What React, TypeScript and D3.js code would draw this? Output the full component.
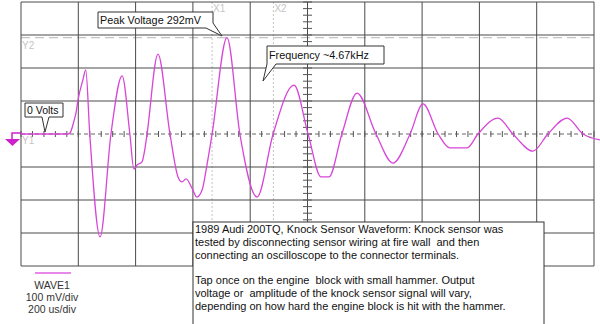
import React from "react";
import * as d3 from "d3";

// Waveform samples: time (us) and voltage (mV)
const times = [0, 164, 171, 185, 192, 199, 216, 226, 240, 276, 314, 353, 380, 394, 405, 422, 433, 440, 478, 520, 548, 562, 576, 597, 614, 632, 649, 667, 719, 764, 824, 880, 953, 1002, 1047, 1075, 1120, 1173, 1239, 1298, 1358, 1403, 1456, 1497, 1557, 1595, 1665, 1717, 1787, 1839, 1906, 1962, 2021];
const volts = [0, 0, 3, 40, 64, 103, 164, 194, 0, -312, 0, 176, 0, -106, -94, -85, -42, 0, 242, 0, -130, -145, -136, -164, -191, -170, -94, 0, 292, 0, -191, 0, 148, 0, -130, -130, 0, 124, 0, -88, 0, 91, 0, -42, -42, 0, 48, 0, -52, 0, 48, 0, -18];

const timeTicks = d3.range(0, 2001, 200);
const voltTicks = d3.range(-400, 401, 100);
const timeMinor = d3.range(0, 2001, 40);
const voltMinor = d3.range(-400, 401, 20);
const cursorsX = [{ name: "X1", t: 667 }, { name: "X2", t: 881 }];
const cursorY2 = 292;

const noteLines1 = [
  "1989 Audi 200TQ, Knock Sensor Waveform: Knock sensor was",
  "tested by disconnecting sensor wiring at fire wall  and then",
  "connecting an oscilloscope to the connector terminals.",
];
const noteLines2 = [
  "Tap once on the engine  block with small hammer. Output",
  "voltage or  amplitude of the knock sensor signal will vary,",
  "depending on how hard the engine block is hit with the hammer.",
];
const legendLines = ["WAVE1", "100 mV/div", "200 us/div"];

const W = 600, H = 324;
const FONT = "'Liberation Sans', Arial, sans-serif";

export default function App() {
  const x = d3.scaleLinear().domain([0, 2000]).range([21, 594]);
  const y = d3.scaleLinear().domain([-400, 400]).range([266, 2]);
  const pts: [number, number][] = times.map((t, i) => [t, volts[i]]);
  const line = d3
    .line<[number, number]>()
    .x((d) => x(d[0]))
    .y((d) => y(d[1]))
    .curve(d3.curveMonotoneX);
  const y0 = y(0);
  const xc = x(1000);
  const wave = "#d845d8";
  const gridC = "#4a4a4a";
  const light = "#c4c4c4";
  const pre = { whiteSpace: "pre" as const };

  return (
    <svg width={W} height={H} style={{ position: "absolute", left: 0, top: 0, display: "block", background: "#fff" }} fontFamily={FONT}>
      <rect x={0} y={0} width={W} height={H} fill="#fff" />
      {/* Y2 cursor */}
      <line x1={x(0)} x2={x(2000)} y1={y(cursorY2)} y2={y(cursorY2)} stroke={light} strokeWidth={1.3} strokeDasharray="9,5" />
      <text x={22} y={49} fontSize={10} fill={light}>Y2</text>
      {/* X cursors */}
      {cursorsX.map((c) => (
        <g key={c.name}>
          <line x1={x(c.t)} x2={x(c.t)} y1={2} y2={266} stroke={light} strokeWidth={1} strokeDasharray="2,2" />
          <text x={x(c.t) + 1} y={12} fontSize={10} fill={light}>{c.name}</text>
        </g>
      ))}
      {/* grid */}
      {timeTicks.map((t) => (
        <line key={"v" + t} x1={x(t)} x2={x(t)} y1={y(400)} y2={y(-400)} stroke={gridC} strokeWidth={1} />
      ))}
      {voltTicks.filter((v) => v !== 0).map((v) => (
        <line key={"h" + v} x1={x(0)} x2={x(2000)} y1={y(v)} y2={y(v)} stroke={gridC} strokeWidth={1} />
      ))}
      {/* center axes */}
      <line x1={x(0)} x2={x(2000)} y1={y0} y2={y0} stroke="#666" strokeWidth={1} strokeDasharray="4,3" />
      {timeMinor.map((t) => (
        <line key={"tm" + t} x1={x(t)} x2={x(t)} y1={y0 - 3} y2={y0 + 3} stroke="#555" strokeWidth={1} />
      ))}
      {voltMinor.map((v) => (
        <line key={"vm" + v} x1={xc - 4.5} x2={xc + 4.5} y1={y(v)} y2={y(v)} stroke="#555" strokeWidth={1} />
      ))}
      <text x={22} y={144} fontSize={10} fill={light}>Y1</text>
      {/* waveform */}
      <path d={line(pts) || ""} fill="none" stroke={wave} strokeWidth={1.3} />
      {/* ground marker */}
      <path d={`M${x(0)},${y0 - 1} H12 V139`} fill="none" stroke="#cc22cc" strokeWidth={1.5} />
      <polygon points="5,139 20,139 12.5,146" fill="#cc22cc" />
      {/* 0 Volts callout */}
      <path d="M25,103 H63 V117 H49 L45,132 L42,117 H25 Z" fill="#fff" stroke="#333" strokeWidth={1} />
      <text x={27} y={114} fontSize={10.5} fill="#111">0 Volts</text>
      {/* Peak Voltage callout */}
      <path d="M98,12 H213 V23 L222,36 L206,28 H98 Z" fill="#fff" stroke="#333" strokeWidth={1} />
      <text x={100} y={24} fontSize={10.8} fill="#111">Peak Voltage 292mV</text>
      {/* Frequency callout */}
      <path d="M267,46 H384 V64 H276 L263,81 L267,64 Z" fill="#fff" stroke="#333" strokeWidth={1} />
      <text x={269} y={59} fontSize={10.8} fill="#111">Frequency ~4.67kHz</text>
      {/* note box */}
      <rect x={193} y={222} width={351} height={110} fill="#fff" stroke="#333" strokeWidth={1} />
      {noteLines1.map((s, i) => (
        <text key={"n1" + i} x={195} y={233 + i * 13} fontSize={11} fill="#111" style={pre}>{s}</text>
      ))}
      {noteLines2.map((s, i) => (
        <text key={"n2" + i} x={195} y={284 + i * 13} fontSize={11} fill="#111" style={pre}>{s}</text>
      ))}
      {/* legend */}
      <line x1={35} x2={71} y1={273} y2={273} stroke="#e060e0" strokeWidth={1.3} />
      {legendLines.map((s, i) => (
        <text key={"l" + i} x={52} y={289 + i * 12} fontSize={10.5} fill="#333" textAnchor="middle">{s}</text>
      ))}
    </svg>
  );
}
